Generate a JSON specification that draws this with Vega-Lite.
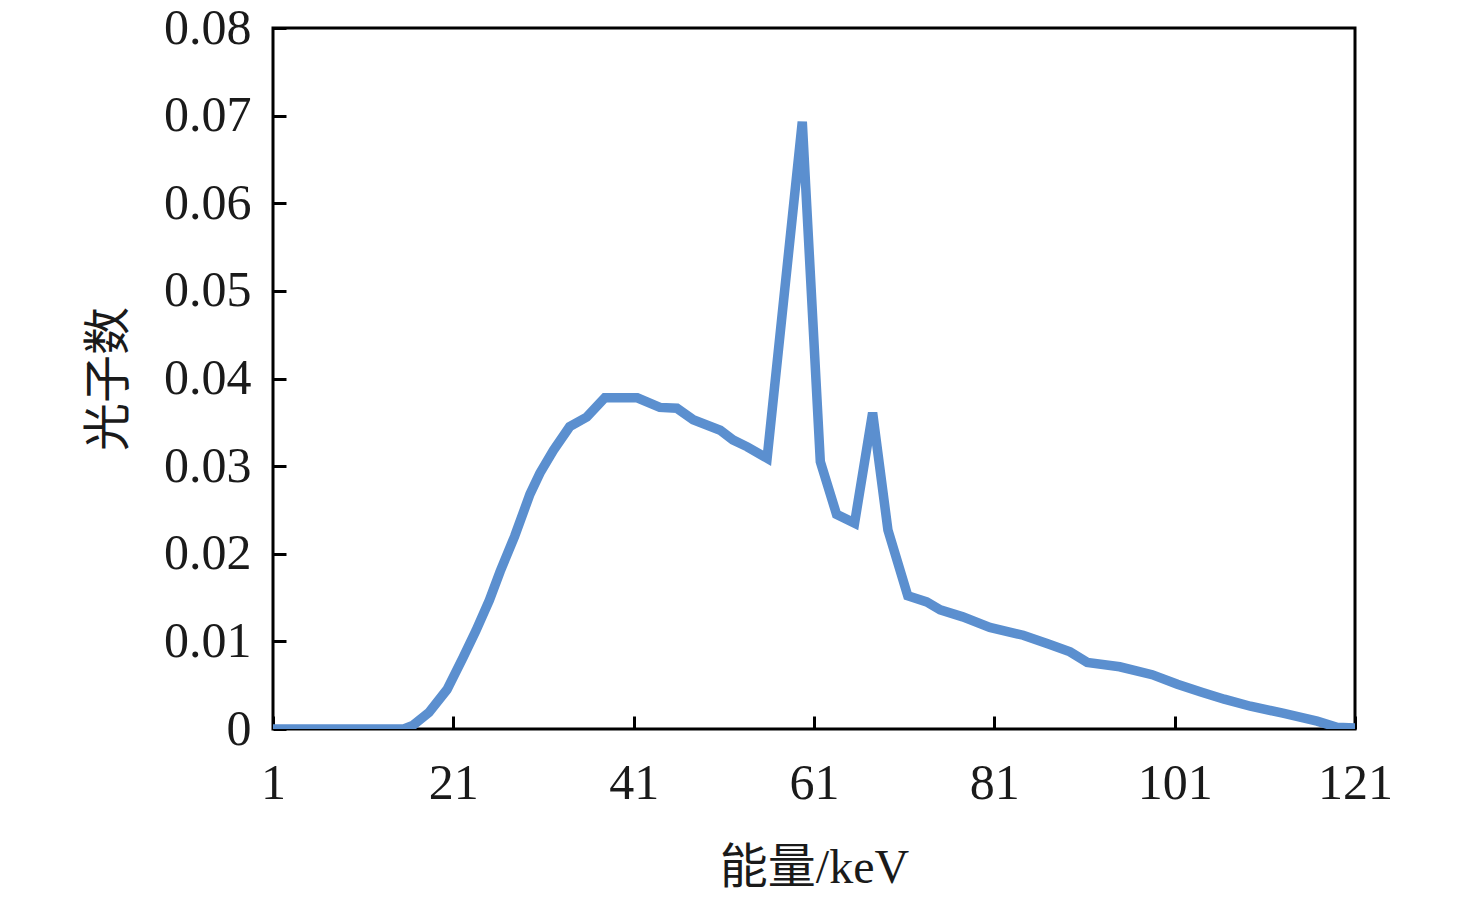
{
  "$schema": "https://vega.github.io/schema/vega-lite/v6.json",
  "width": 1082,
  "height": 701,
  "autosize": {"type": "none"},
  "padding": {"left": 273, "top": 28, "right": 121, "bottom": 173},
  "background": "white",
  "config": {
    "view": {"stroke": "#000000", "strokeWidth": 3},
    "axis": {
      "domain": false,
      "grid": false,
      "tickSize": -13,
      "tickWidth": 3,
      "tickColor": "#000000",
      "labelFont": "Liberation Serif",
      "labelFontSize": 50,
      "labelColor": "#1a1a1a",
      "labelFlush": false,
      "labelOverlap": false,
      "labelBound": false,
      "titleFont": "Liberation Serif, Noto Sans CJK SC",
      "titleFontSize": 48,
      "titleFontWeight": "normal",
      "titleColor": "#1a1a1a"
    }
  },
  "data": {
    "values": [
      {"energy": 1, "count": 0},
      {"energy": 15.5, "count": 0},
      {"energy": 16.5, "count": 0.0004},
      {"energy": 18.3, "count": 0.0019},
      {"energy": 20.3, "count": 0.0045},
      {"energy": 22.1, "count": 0.0082},
      {"energy": 23.5, "count": 0.0112},
      {"energy": 25, "count": 0.0147},
      {"energy": 26.2, "count": 0.018},
      {"energy": 27.8, "count": 0.022},
      {"energy": 29.5, "count": 0.0268},
      {"energy": 30.6, "count": 0.0292},
      {"energy": 32.1, "count": 0.0318},
      {"energy": 33.9, "count": 0.0345},
      {"energy": 35.8, "count": 0.0356},
      {"energy": 37.8, "count": 0.0378},
      {"energy": 41.4, "count": 0.0378},
      {"energy": 43.9, "count": 0.0367},
      {"energy": 45.8, "count": 0.0366},
      {"energy": 47.6, "count": 0.0353},
      {"energy": 50.6, "count": 0.0341},
      {"energy": 52, "count": 0.033},
      {"energy": 53.6, "count": 0.0322},
      {"energy": 55.8, "count": 0.0309},
      {"energy": 59.7, "count": 0.0693},
      {"energy": 61.7, "count": 0.0305},
      {"energy": 63.5, "count": 0.0245},
      {"energy": 65.5, "count": 0.0235},
      {"energy": 67.5, "count": 0.0361},
      {"energy": 69.2, "count": 0.0227},
      {"energy": 71.4, "count": 0.0152},
      {"energy": 73.5, "count": 0.0145},
      {"energy": 75, "count": 0.0136},
      {"energy": 77.5, "count": 0.0128},
      {"energy": 80.5, "count": 0.0116},
      {"energy": 84.2, "count": 0.0107},
      {"energy": 87, "count": 0.0097},
      {"energy": 89.4, "count": 0.0088},
      {"energy": 91.3, "count": 0.0076},
      {"energy": 94.9, "count": 0.0071},
      {"energy": 98.5, "count": 0.0062},
      {"energy": 101.3, "count": 0.0051},
      {"energy": 104, "count": 0.0042},
      {"energy": 106.5, "count": 0.0034},
      {"energy": 109.4, "count": 0.0026},
      {"energy": 113, "count": 0.0018},
      {"energy": 116.8, "count": 0.0009},
      {"energy": 119, "count": 0.0002},
      {"energy": 121, "count": 0.0001}
    ]
  },
  "mark": {"type": "line", "color": "#5b8fcf", "strokeWidth": 9.5, "clip": true},
  "encoding": {
    "x": {
      "field": "energy",
      "type": "quantitative",
      "scale": {"domain": [1, 121], "nice": false, "zero": false},
      "axis": {"values": [1, 21, 41, 61, 81, 101, 121], "title": "能量/keV", "labelPadding": 42, "titlePadding": 36}
    },
    "y": {
      "field": "count",
      "type": "quantitative",
      "scale": {"domain": [0, 0.08], "nice": false},
      "axis": {"values": [0, 0.01, 0.02, 0.03, 0.04, 0.05, 0.06, 0.07, 0.08], "format": ".2~f", "title": "光子数", "labelPadding": 35, "titlePadding": 30}
    }
  }
}
